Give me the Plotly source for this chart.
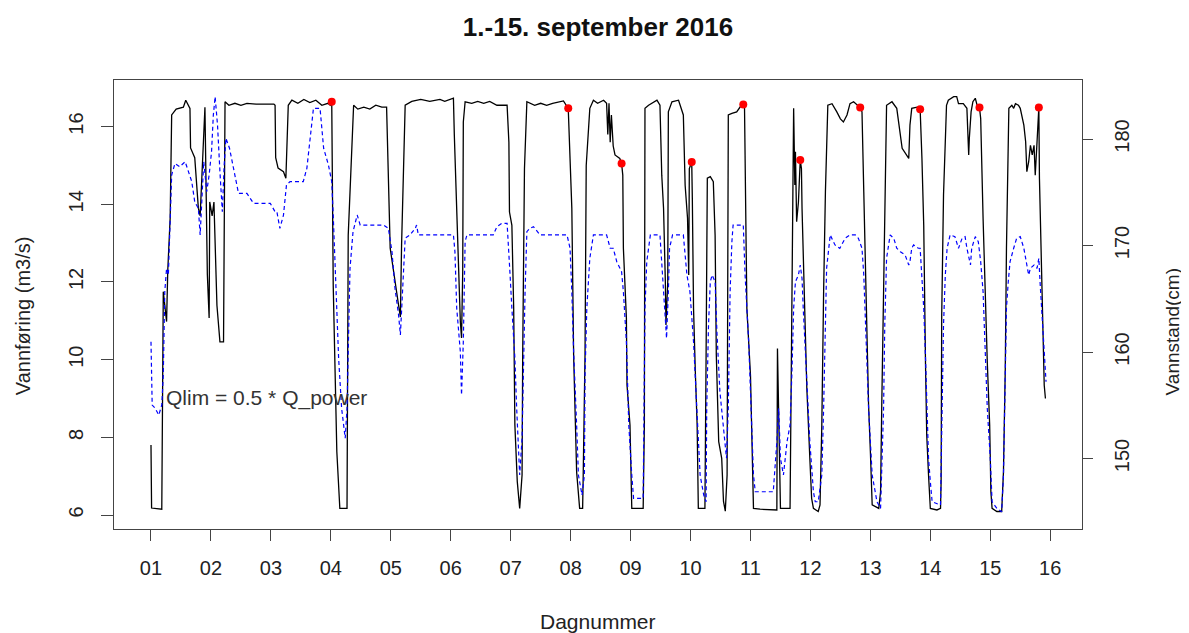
import plotly.graph_objects as go

# ---- data: Vannføring (black, left axis) ----
q_day = [1.00, 1.005, 1.01, 1.18, 1.205, 1.26, 1.28, 1.32, 1.345, 1.42, 1.54, 1.58, 1.65, 1.66, 1.73, 1.79, 1.82,
         1.90, 1.94, 1.97, 1.98, 2.02, 2.05, 2.10, 2.15, 2.21, 2.22, 2.235, 2.3, 2.4, 2.5, 2.6, 2.75, 2.9, 3.05,
         3.07, 3.08, 3.12, 3.21, 3.25, 3.29, 3.35, 3.45, 3.55, 3.65, 3.75, 3.85, 3.95, 3.99, 4.015, 4.04, 4.10,
         4.15, 4.27, 4.29, 4.38, 4.45, 4.55, 4.65, 4.75, 4.85, 4.93, 4.99, 5.13, 5.16, 5.18, 5.24, 5.35, 5.5,
         5.65, 5.82, 5.9, 6.0, 6.045, 6.06, 6.09, 6.13, 6.16, 6.18, 6.2, 6.21, 6.24, 6.35, 6.45, 6.55, 6.65,
         6.77, 6.94, 6.97, 6.98, 7.02, 7.05, 7.07, 7.11, 7.15, 7.19, 7.2, 7.23, 7.27, 7.4, 7.5, 7.6, 7.7, 7.88,
         7.96, 7.98, 8.02, 8.05, 8.1, 8.15, 8.2, 8.21, 8.24, 8.26, 8.32, 8.38, 8.45, 8.55, 8.6, 8.62, 8.64, 8.66,
         8.68, 8.71, 8.74, 8.82, 8.85, 8.87, 8.88, 8.93, 8.94, 8.99, 9.02, 9.21, 9.23, 9.24, 9.3, 9.44, 9.49,
         9.52, 9.55, 9.58, 9.59, 9.62, 9.63, 9.69, 9.8, 9.88, 9.91, 9.95, 9.97, 9.98, 10.02, 10.03, 10.05, 10.08,
         10.11, 10.13, 10.24, 10.26, 10.28, 10.33, 10.38, 10.41, 10.43, 10.47, 10.52, 10.55, 10.58, 10.61, 10.62,
         10.63, 10.69, 10.77, 10.83, 10.88, 10.9, 10.91, 10.94, 11.0, 11.02, 11.05, 11.16, 11.44, 11.45, 11.47,
         11.5, 11.66, 11.67, 11.71, 11.72, 11.74, 11.75, 11.77, 11.8, 11.83, 11.85, 11.86, 11.88, 11.91, 11.94,
         11.99, 12.02, 12.05, 12.13, 12.16, 12.19, 12.22, 12.25, 12.29, 12.36, 12.44, 12.5, 12.55, 12.61, 12.66,
         12.72, 12.83, 12.86, 12.89, 12.94, 12.97, 13.0, 13.03, 13.14, 13.17, 13.19, 13.22, 13.24, 13.27, 13.36,
         13.44, 13.53, 13.61, 13.64, 13.66, 13.69, 13.78, 13.83, 13.86, 13.89, 13.92, 13.94, 13.97, 14.0, 14.11,
         14.17, 14.18, 14.19, 14.22, 14.27, 14.3, 14.39, 14.44, 14.47, 14.55, 14.61, 14.64, 14.65, 14.68, 14.71,
         14.75, 14.78, 14.82, 14.84, 14.88, 14.92, 14.95, 14.99, 15.01, 15.03, 15.11, 15.19, 15.22, 15.25, 15.27,
         15.31, 15.36, 15.39, 15.42, 15.47, 15.5, 15.56, 15.59, 15.61, 15.64, 15.67, 15.70, 15.73, 15.75, 15.78,
         15.81, 15.82, 15.85, 15.88, 15.9, 15.92]
q_val = [7.80, 7.11, 6.18, 6.15, 11.75, 10.98, 12.3, 13.65, 16.3, 16.45, 16.5, 16.68, 16.47, 15.45, 15.2, 13.9, 13.7,
         16.5, 12.2, 11.07, 14.06, 13.7, 14.06, 11.4, 10.46, 10.46, 13.4, 16.64, 16.55, 16.6, 16.55, 16.6, 16.58,
         16.58, 16.58,
         16.55, 15.2, 14.93, 14.84, 14.67, 16.55, 16.68, 16.6, 16.7, 16.62, 16.68, 16.55, 16.6, 16.55, 16.64, 11.9,
         7.63, 6.17, 6.17, 13.2, 16.55, 16.45, 16.5, 16.45, 16.55, 16.5, 16.5, 12.87, 11.4, 11.1, 12.95, 16.55,
         16.65, 16.7, 16.65, 16.7, 16.65, 16.7, 16.73, 15.78, 14.3, 12.5, 10.98, 10.56, 12.26, 16.12, 16.64, 16.6,
         16.65, 16.6, 16.65, 16.55, 16.55, 15.6, 13.8, 13.46, 11.33, 8.32, 6.86, 6.17, 7.03, 10.03, 14.92, 16.64,
         16.55, 16.6, 16.55, 16.6, 16.66, 16.47, 15.6, 13.9, 10.12, 7.11, 6.17, 6.17, 7.03, 10.12, 15.0, 16.47,
         16.68, 16.6, 16.68, 16.6, 15.8, 16.6, 15.6, 16.3, 15.5, 15.27, 15.18, 15.05, 14.75, 12.87, 11.07, 9.35,
         8.32, 6.17, 6.17, 8.32, 16.47, 16.55, 16.68, 16.55, 14.75, 13.9, 12.0, 10.89, 12.0, 16.38, 16.64, 16.68,
         16.3, 14.49, 13.64, 12.18, 14.92, 15.09, 14.15, 11.32, 9.68, 8.32, 6.17, 6.17, 10.2, 14.67, 14.71, 14.58,
         13.2, 10.12, 7.89, 7.46, 6.35, 6.1, 7.03, 12.18, 16.3, 16.34, 16.38, 16.51, 16.57, 16.55, 14.75, 11.32,
         9.6, 8.32, 6.17, 6.15, 6.13, 10.29, 8.74, 6.17, 6.17, 8.0, 14.15, 16.47, 14.5, 15.35, 13.55, 14.06, 15.14,
         14.92, 13.89, 12.61, 10.72, 9.26, 7.46, 6.43, 6.17, 6.09, 6.26, 8.32, 11.75, 14.32, 16.55, 16.59, 16.38,
         16.2, 16.12, 16.3, 16.59, 16.64, 16.49, 16.38, 14.32, 10.55, 8.83, 7.63, 6.26, 6.17, 6.60, 8.83, 11.66,
         13.89, 16.55, 16.64, 16.47, 15.44, 15.27, 15.18, 16.04, 16.47, 16.5, 16.45, 15.18, 13.46, 9.86, 8.06,
         7.03, 6.17, 6.13, 6.17, 6.86, 11.15, 14.24, 16.55, 16.68, 16.77, 16.77, 16.59, 16.59, 16.47, 15.27, 15.69,
         16.38, 16.64, 16.73, 16.55, 16.49, 16.21, 13.64, 11.32, 9.94, 8.32, 6.6, 6.17, 6.09, 6.09, 7.11, 9.77,
         12.87, 16.47, 16.55, 16.47, 16.59, 16.55, 16.47, 16.04, 15.61, 14.84, 15.09, 15.52, 15.27, 15.52, 14.75,
         15.61, 16.49, 14.67, 12.87, 10.98, 9.34, 9.0]

# ---- data: Vannstand (blue dashed, right axis) ----
h_day = [1.0, 1.01, 1.02, 1.07, 1.13, 1.18, 1.205, 1.23, 1.26, 1.29, 1.32, 1.345, 1.40, 1.48, 1.57, 1.62, 1.68,
         1.73, 1.79, 1.82, 1.85, 1.88, 1.93, 1.97, 2.01, 2.04, 2.07, 2.11, 2.15, 2.19, 2.22, 2.25, 2.31, 2.40,
         2.46, 2.60, 2.71, 2.99, 3.07, 3.10, 3.15, 3.21, 3.26, 3.32, 3.54, 3.6, 3.65, 3.71, 3.82, 3.88, 3.96,
         4.015, 4.04, 4.07, 4.10, 4.13, 4.18, 4.21, 4.24, 4.27, 4.29, 4.32, 4.37, 4.40, 4.44, 4.49, 4.88, 4.96,
         5.02, 5.07, 5.13, 5.16, 5.18, 5.21, 5.24, 5.32, 5.41, 5.43, 5.46, 5.82, 6.045, 6.07, 6.10, 6.16, 6.18,
         6.21, 6.24, 6.27, 6.71, 6.77, 6.85, 6.94, 6.96, 6.99, 7.02, 7.07, 7.10, 7.15, 7.19, 7.21, 7.24, 7.27,
         7.32, 7.38, 7.44, 7.49, 7.94, 7.99, 8.02, 8.05, 8.1, 8.13, 8.19, 8.23, 8.24, 8.27, 8.32, 8.38, 8.6,
         8.66, 8.71, 8.77, 8.85, 8.88, 8.93, 8.97, 9.02, 9.05, 9.21, 9.23, 9.24, 9.27, 9.33, 9.49, 9.52, 9.55,
         9.6, 9.63, 9.65, 9.70, 9.88, 9.94, 9.99, 10.05, 10.11, 10.16, 10.22, 10.26, 10.27, 10.3, 10.33, 10.36,
         10.41, 10.44, 10.49, 10.55, 10.6, 10.63, 10.66, 10.69, 10.71, 10.88, 10.91, 10.97, 11.02, 11.05, 11.08,
         11.38, 11.44, 11.47, 11.5, 11.55, 11.61, 11.66, 11.69, 11.72, 11.75, 11.80, 11.83, 11.86, 11.88, 11.94,
         11.99, 12.05, 12.08, 12.13, 12.19, 12.22, 12.25, 12.27, 12.33, 12.41, 12.49, 12.58, 12.66, 12.75, 12.8,
         12.86, 12.89, 12.92, 12.97, 13.03, 13.11, 13.17, 13.19, 13.22, 13.24, 13.27, 13.33, 13.39, 13.44, 13.5,
         13.58, 13.64, 13.66, 13.69, 13.72, 13.8, 13.83, 13.86, 13.89, 13.92, 13.94, 13.97, 14.0, 14.03, 14.17,
         14.18, 14.19, 14.22, 14.25, 14.28, 14.33, 14.41, 14.47, 14.53, 14.58, 14.61, 14.67, 14.69, 14.75, 14.80,
         14.84, 14.88, 14.92, 14.95, 15.0, 15.03, 15.11, 15.19, 15.22, 15.25, 15.27, 15.3, 15.33, 15.39, 15.44,
         15.5, 15.56, 15.61, 15.64, 15.67, 15.73, 15.78, 15.81, 15.83, 15.86, 15.89, 15.92, 15.93]
h_val = [160.97, 155.65, 155.02, 154.71, 154.08, 155.02, 157.84, 165.66, 167.86, 167.23, 172.55, 176.62, 177.7,
         177.4, 177.87, 176.93, 176.0, 174.1, 173.5, 170.99, 174.6, 177.87, 175.06, 176.62, 178.8, 182.25, 183.97,
         181.3, 176.93, 173.17, 177.5, 180.07, 179.13, 176.62, 174.9, 174.9, 173.96, 173.96, 173.17, 173.17,
         171.61, 172.86, 175.68, 176.0, 176.0, 177.25, 180.07, 182.88, 182.88, 179.13, 177.56, 176.0, 172.86,
         168.8, 164.1, 159.41, 154.71, 153.15, 151.9, 154.71, 160.97, 167.86, 171.3, 171.92, 172.86, 171.92,
         171.92, 171.61, 169.42, 165.98, 163.47, 161.6, 164.1, 167.86, 170.68, 170.99, 171.61, 171.92, 170.99,
         170.99, 170.99, 169.42, 164.1, 160.03, 155.96, 160.97, 170.36, 170.99, 170.99, 171.77, 172.08, 172.08,
         170.36, 167.23, 164.1, 159.41, 154.71, 148.45, 151.9, 157.84, 165.66, 171.3, 171.61, 171.77, 171.3,
         170.99, 170.99, 169.74, 165.66, 160.03, 153.15, 148.45, 146.57, 148.45, 157.84, 164.1, 168.8, 170.99,
         170.99, 169.74, 169.74, 168.48, 167.54, 165.66, 160.97, 153.15, 148.45, 146.26, 146.26, 154.71, 164.1,
         168.48, 170.99, 170.99, 168.48, 165.66, 161.29, 165.66, 169.74, 170.99, 170.99, 167.23, 165.66, 160.97,
         154.71, 148.45, 146.57, 145.94, 154.71, 162.54, 166.6, 167.23, 166.6, 161.91, 156.27, 152.83, 150.02,
         154.71, 165.66, 170.36, 171.92, 171.92, 167.23, 160.97, 153.15, 148.45, 146.88, 146.88, 151.58, 154.71,
         150.02, 148.45, 151.58, 153.15, 157.84, 164.1, 166.6, 167.23, 168.17, 166.9, 164.1, 157.84, 151.58,
         146.88, 145.94, 145.94, 148.45, 154.71, 164.1, 167.86, 170.99, 170.05, 169.74, 170.68, 170.99, 170.99,
         170.68, 169.74, 167.23, 162.54, 154.71, 148.45, 145.94, 145.32, 148.45, 154.71, 162.54, 168.8, 170.99,
         170.68, 169.74, 169.42, 169.1, 168.17, 168.48, 169.74, 170.05, 169.74, 169.74, 167.23, 164.1, 159.41,
         154.71, 150.02, 147.82, 145.94, 145.63, 148.45, 154.71, 162.54, 167.23, 169.74, 170.99, 170.83, 169.74,
         170.68, 170.83, 169.74, 168.17, 169.74, 170.83, 170.36, 168.48, 165.66, 159.41, 154.71, 150.02, 145.94,
         145.32, 145.0, 148.45, 156.27, 164.1, 166.6, 168.48, 169.74, 170.68, 170.83, 169.74, 168.17, 167.23,
         167.86, 168.17, 167.86, 168.8, 166.6, 163.47, 161.6, 157.84, 157.2]

# ---- red points on Vannføring ----
pt_day = [4.015, 7.96, 8.85, 10.02, 10.88, 11.83, 12.83, 13.83, 14.82, 15.81]
pt_val = [16.64, 16.47, 15.05, 15.09, 16.57, 15.14, 16.49, 16.45, 16.49, 16.49]

x_tick_vals = list(range(1, 17))
x_tick_text = ["%02d" % d for d in x_tick_vals]
y_tick_vals = [6, 8, 10, 12, 14, 16]
y2_tick_vals = [150, 160, 170, 180]

FONT = "Liberation Sans, Arial, sans-serif"
AXC = "#444444"
TXT = "#222222"

fig = go.Figure()
fig.add_trace(go.Scatter(x=q_day, y=q_val, mode="lines", line=dict(color="black", width=1.3),
                         showlegend=False, hoverinfo="skip"))
fig.add_trace(go.Scatter(x=h_day, y=h_val, mode="lines", yaxis="y2",
                         line=dict(color="#0000FF", width=1.2, dash="4px,3px"),
                         showlegend=False, hoverinfo="skip"))
fig.add_trace(go.Scatter(x=pt_day, y=pt_val, mode="markers", marker=dict(color="#FF0000", size=8),
                         showlegend=False, hoverinfo="skip"))

fig.add_annotation(x=1.21, y=9.0, xref="x", yref="y", text="Qlim = 0.5 * Q_power", showarrow=False,
                   xanchor="left", yanchor="middle", font=dict(family=FONT, size=21, color="#333333"))

# axis titles
fig.add_annotation(x=-0.094, y=0.474, xref="paper", yref="paper", text="Vannføring (m3/s)", textangle=-90,
                   xanchor="center", yanchor="middle",
                   showarrow=False, font=dict(family=FONT, size=20, color=TXT))
fig.add_annotation(x=1.0935, y=0.439, xref="paper", yref="paper", text="Vannstand(cm)", textangle=-90,
                   xanchor="center", yanchor="middle",
                   showarrow=False, font=dict(family=FONT, size=19, color=TXT))
fig.add_annotation(x=0.5, y=-0.207, xref="paper", yref="paper", text="Dagnummer",
                   xanchor="center", yanchor="middle",
                   showarrow=False, font=dict(family=FONT, size=21, color=TXT))

fig.update_layout(
    width=1181, height=625, autosize=False,
    margin=dict(l=106, r=107, t=72, b=104),
    paper_bgcolor="white", plot_bgcolor="white",
    title=dict(text="<b>1.-15. september 2016</b>", x=0.5, xref="paper", xanchor="center",
               y=1 - 19 / 625, yref="container", yanchor="middle",
               font=dict(family=FONT, size=26, color="#111111")),
    xaxis=dict(range=[0.383, 16.53], tickvals=x_tick_vals, ticktext=x_tick_text, showgrid=False,
               zeroline=False, showline=True, mirror=True, linecolor=AXC, linewidth=1,
               ticks="outside", ticklen=11, tickcolor=AXC,
               tickfont=dict(family=FONT, size=20, color=TXT), ticklabelstandoff=10),
    yaxis=dict(range=[5.64, 17.2], tickvals=y_tick_vals, showgrid=False, zeroline=False,
               showline=True, linecolor=AXC, linewidth=1, ticks="outside", ticklen=12, tickcolor=AXC,
               tickangle=-90, tickfont=dict(family=FONT, size=20, color=TXT), ticklabelstandoff=10),
    yaxis2=dict(range=[143.38, 185.54], tickvals=y2_tick_vals, overlaying="y", side="right",
                showgrid=False, zeroline=False, showline=True, linecolor=AXC, linewidth=1,
                ticks="outside", ticklen=10, tickcolor=AXC, tickangle=-90,
                tickfont=dict(family=FONT, size=20, color=TXT), ticklabelstandoff=12),
)

fig.write_html("out.html")
